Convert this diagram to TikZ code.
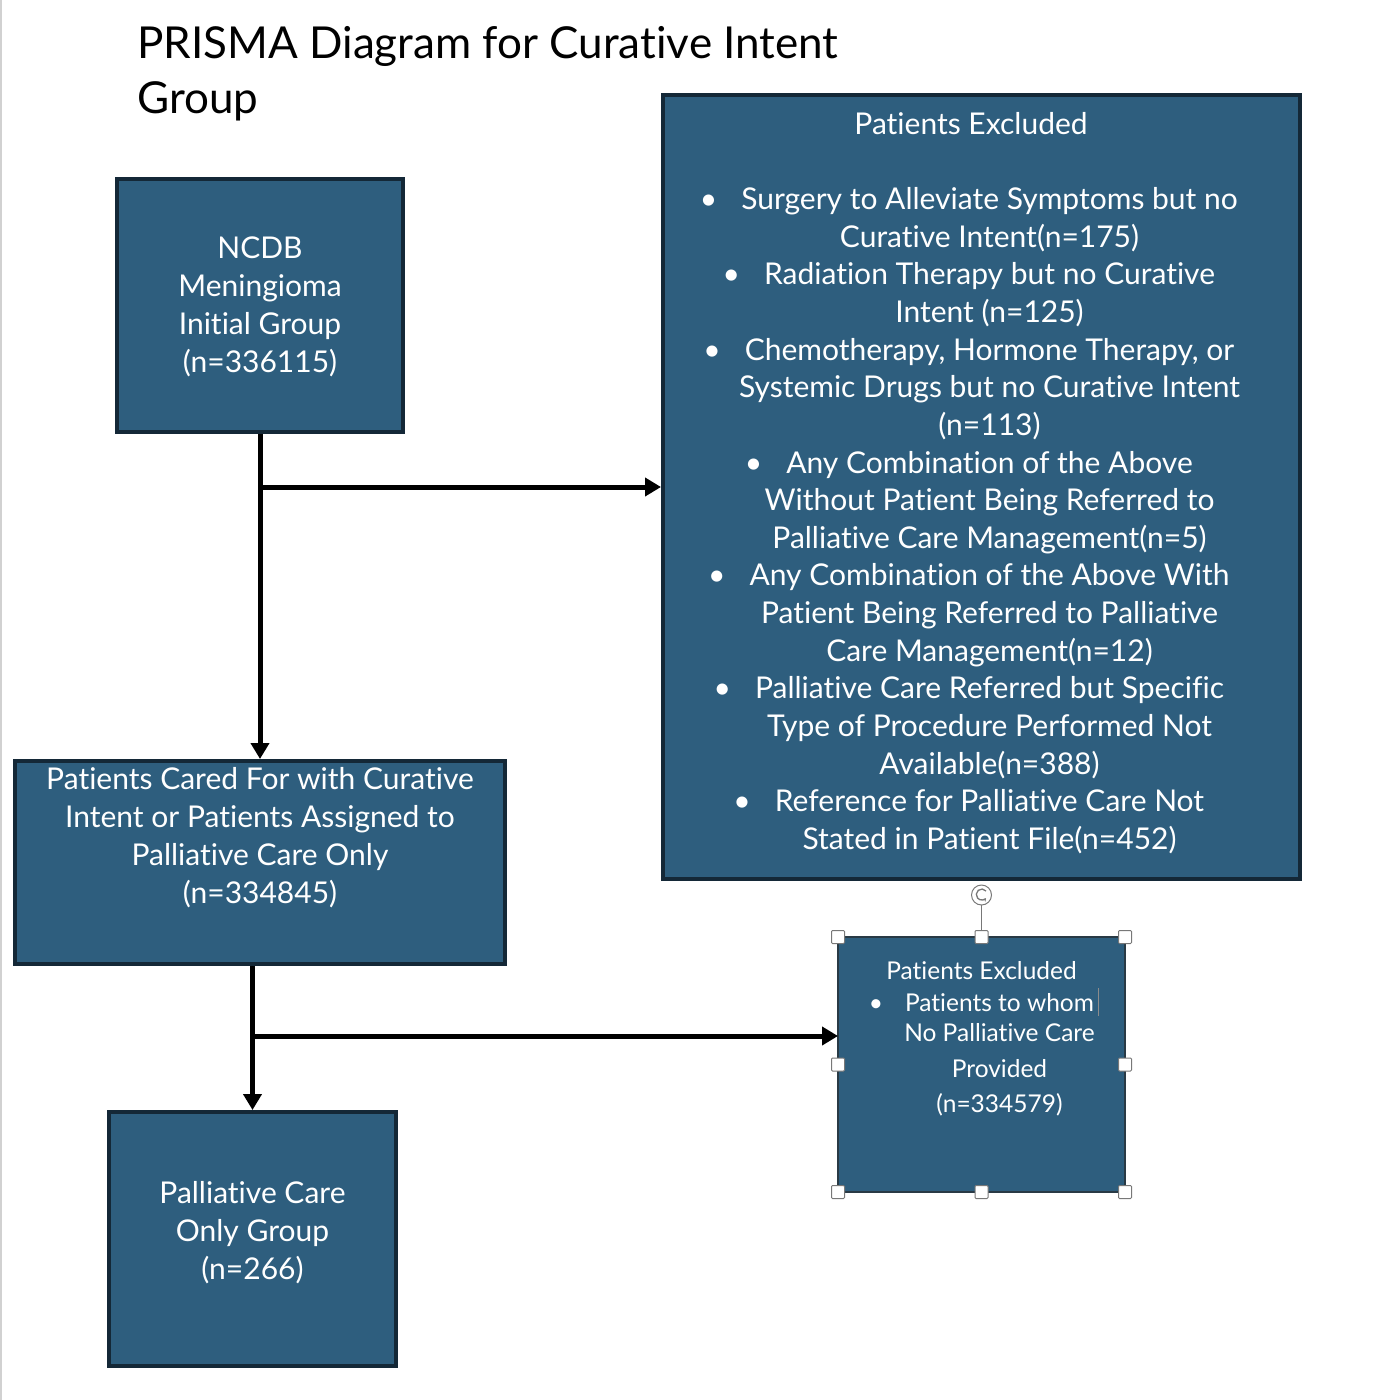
\documentclass[tikz,border=0pt]{standalone}
\usepackage{fontspec}
\setmainfont{Lato}[Ligatures={NoCommon,NoRare}]
\usetikzlibrary{arrows.meta}
\definecolor{boxfill}{RGB}{46,94,126}
\definecolor{boxedge}{RGB}{20,40,55}
\definecolor{handlegray}{RGB}{120,120,120}
\begin{document}
\begin{tikzpicture}[x=1pt,y=-1pt,
  box/.style={draw=boxedge, fill=boxfill, line width=4pt, inner sep=0pt},
  txt/.style={text=white, align=center, inner sep=0pt, font=\fontsize{30}{38}\selectfont},
  bigtxt/.style={text=white, align=center, inner sep=0pt, font=\fontsize{30}{37.65}\selectfont},
  smalltxt/.style={text=white, align=center, inner sep=0pt, font=\fontsize{24.5}{32}\selectfont},
  conn/.style={line width=5pt, black, -{Triangle[width=18pt,length=16pt]}},
  handle/.style={fill=white, draw=handlegray, line width=1pt}]
\useasboundingbox (0,0) rectangle (1382,1400);
\draw[black!18, line width=1.5pt] (1,0) -- (1,1400);
\newcommand\bl{\llap{\textbullet\hspace{24pt}}}
\newcommand\sbl{\llap{\textbullet\hspace{22pt}}}
% title
\node[anchor=west, align=left, inner sep=0pt, font=\fontsize{44}{55}\selectfont] (title) at (137,73.5)
  {PRISMA Diagram for Curative Intent\\Group};
% boxes
\node[box, minimum width=286pt, minimum height=253pt] (ncdb) at (260,305.5) {};
\node[txt] (ncdbt) at (260,307) {NCDB\\Meningioma\\Initial Group\\(n=336115)};
\node[box, minimum width=637pt, minimum height=784pt] (excl) at (981.5,487) {};
\node[bigtxt] (exclt) at (989.5,483) {Patients Excluded\hspace*{37pt}\\[37.65pt]
 \bl Surgery to Alleviate Symptoms but no\\
 Curative Intent(n=175)\\
 \bl Radiation Therapy but no Curative\\
 Intent (n=125)\\
 \bl Chemotherapy, Hormone Therapy, or\\
 Systemic Drugs but no Curative Intent\\
 (n=113)\\
 \bl Any Combination of the Above\\
 Without Patient Being Referred to\\
 Palliative Care Management(n=5)\\
 \bl Any Combination of the Above With\\
 Patient Being Referred to Palliative\\
 Care Management(n=12)\\
 \bl Palliative Care Referred but Specific\\
 Type of Procedure Performed Not\\
 Available(n=388)\\
 \bl Reference for Palliative Care Not\\
 Stated in Patient File(n=452)};
\node[box, minimum width=490pt, minimum height=203pt] (cur) at (260,862.5) {};
\node[txt] (curt) at (260,838) {Patients Cared For with Curative\\Intent or Patients Assigned to\\Palliative Care Only\\(n=334845)};
\node[box, minimum width=287pt, minimum height=254pt] (pal) at (252.5,1239) {};
\node[txt] (palt) at (252.5,1233) {Palliative Care\\Only Group\\(n=266)};
\node[box, line width=2.5pt, draw=boxedge!80!gray, minimum width=287pt, minimum height=255pt] (small) at (981.5,1064.5) {};
\node[smalltxt] (smallt) at (999.5,1038.5) {Patients Excluded\hspace*{36pt}\\
 \sbl Patients to whom\\[-2pt]
 No Palliative Care\\[4pt]
 Provided\\[3pt]
 (n=334579)};
% text cursor
\draw[black!45, line width=1pt] (1098.5,988) -- (1098.5,1016);
% connectors
\coordinate (b2) at (838,1036);
\draw[conn] (ncdb.south) -- (cur.north);
\draw[conn] (ncdb.south |- excl.west) -- (excl.west);
\draw[conn] (pal.north |- cur.south) -- (pal.north);
\draw[conn] (pal.north |- b2) -- (b2);
% selection handles
\draw[handlegray, line width=1.2pt] (981.5,905) -- (981.5,931);
\draw[handle] (981.5,895) circle[radius=10];
\draw[handlegray, line width=1.3pt, -{Stealth[length=3.5pt,width=4pt]}] (986,891) arc[start angle=-40, end angle=-320, radius=5.5];
\foreach \x/\y in {838/937, 981.5/937, 1125/937, 838/1064.5, 1125/1064.5, 838/1192, 981.5/1192, 1125/1192}
  \draw[handle, rounded corners=1pt] (\x-6.5,\y-6.5) rectangle (\x+6.5,\y+6.5);
\end{tikzpicture}
\end{document}
